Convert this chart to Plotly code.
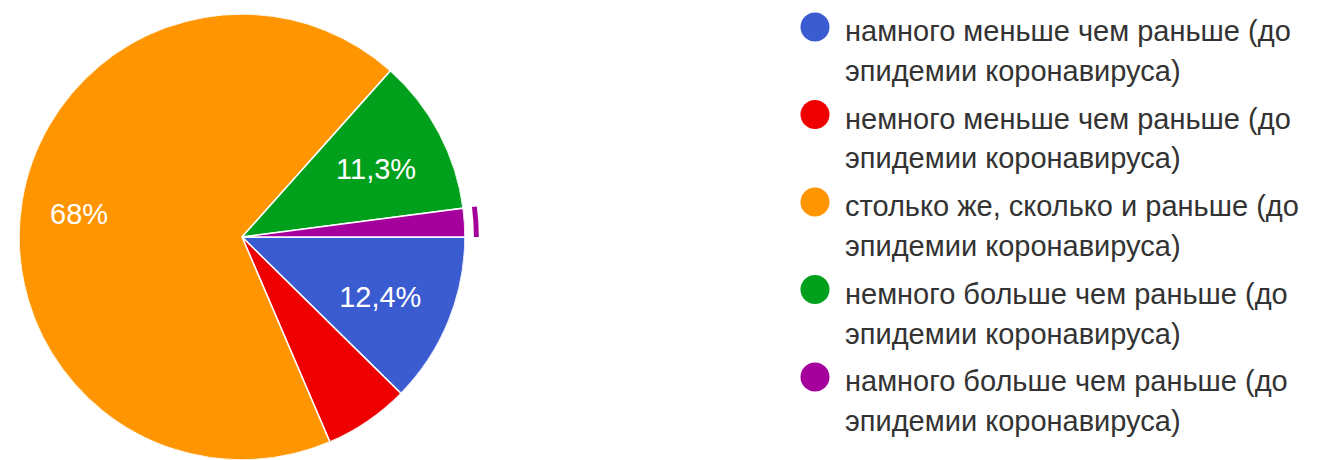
import itertools
import math
import textwrap

import plotly.graph_objects as go

# Survey answers and response counts
categories = [
    "намного меньше чем раньше (до эпидемии коронавируса)",
    "немного меньше чем раньше (до эпидемии коронавируса)",
    "столько же, сколько и раньше (до эпидемии коронавируса)",
    "немного больше чем раньше (до эпидемии коронавируса)",
    "намного больше чем раньше (до эпидемии коронавируса)",
]
responses = [12, 6, 66, 11, 2]
colors = ["#3b5bd1", "#ee0000", "#ff9500", "#00a01d", "#a6009c"]

# slice shown with the hover ring
highlighted = 4

# ---- geometry / style ----
W, H = 1322, 460
PIE_CX, PIE_CY, PIE_R = 242, 237, 223          # pixel centre and radius
LABEL_RADIUS = [0.67, 0.67, 0.74, 0.68, 0.67]   # label distance, fraction of radius
LABEL_DY = 6                                   # labels sit a little below the bisector (px)
LABEL_MIN_SHARE = 8.0                          # smaller slices get no label
RING_BASE, RING_WIDTH = 1.040, 0.022           # hover ring, fraction of radius
RING_AXIS_MAX = 1.08
RING_SECTOR = 12                               # degrees above 3 o'clock
FONT = "Liberation Sans, Arial, Helvetica, sans-serif"
TEXT_COLOR = "#333333"

LEG_MARK_X, LEG_TEXT_X = 815, 843
LEG_Y0, LEG_STEP, LEG_LINE = 27, 87.5, 40
LEG_MARK_D = 29
LEG_TEXT_DY = 4

total = sum(responses)
shares = [v / total * 100 for v in responses]


def fmt_pct(p):
    s = f"{p:.1f}"
    if s.endswith(".0"):
        s = s[:-2]
    return s.replace(".", ",") + "%"


# angular positions (degrees clockwise from 3 o'clock)
cum = list(itertools.accumulate(responses))
starts = [(c - v) / total * 360 for c, v in zip(cum, responses)]
spans = [v / total * 360 for v in responses]
mids = [s + w / 2 for s, w in zip(starts, spans)]


def label_pos(i):
    """Polar position of the label for slice i (bisector, nudged down)."""
    a = math.radians(mids[i])
    x = LABEL_RADIUS[i] * math.cos(a)
    y = LABEL_RADIUS[i] * math.sin(a) + LABEL_DY / PIE_R
    return math.hypot(x, y), math.degrees(math.atan2(y, x)) % 360


pie_domain = dict(
    x=[(PIE_CX - PIE_R) / W, (PIE_CX + PIE_R) / W],
    y=[max(0.0, 1 - (PIE_CY + PIE_R) / H), 1 - (PIE_CY - PIE_R) / H],
)
# narrow sector subplot sharing the pie centre, used for the hover ring
ring_r = PIE_R * RING_AXIS_MAX
ring_domain = dict(
    x=[PIE_CX / W, (PIE_CX + ring_r) / W],
    y=[1 - PIE_CY / H, 1 - (PIE_CY - ring_r * math.sin(math.radians(RING_SECTOR))) / H],
)

fig = go.Figure()

# pie slices as full-radius wedges
fig.add_trace(go.Barpolar(
    r=[1] * len(responses),
    base=[0] * len(responses),
    theta=mids,
    width=spans,
    customdata=[[c, fmt_pct(s)] for c, s in zip(categories, shares)],
    hovertemplate="%{customdata[0]}<br>%{customdata[1]}<extra></extra>",
    marker=dict(color=colors, line=dict(color="white", width=1.5)),
    showlegend=False,
    subplot="polar",
))

# percentage labels
lab_idx = [i for i, s in enumerate(shares) if s >= LABEL_MIN_SHARE]
lab_pos = [label_pos(i) for i in lab_idx]
fig.add_trace(go.Scatterpolar(
    r=[p[0] for p in lab_pos],
    theta=[p[1] for p in lab_pos],
    text=[fmt_pct(shares[i]) for i in lab_idx],
    mode="text",
    textfont=dict(family=FONT, size=29, color="white"),
    hoverinfo="skip",
    showlegend=False,
    subplot="polar",
))

# hover ring around the highlighted slice
fig.add_trace(go.Barpolar(
    r=[RING_WIDTH],
    base=[RING_BASE],
    theta=[mids[highlighted]],
    width=[spans[highlighted]],
    marker=dict(color=colors[highlighted], line=dict(width=0)),
    hoverinfo="skip",
    showlegend=False,
    subplot="polar2",
))

# legend: coloured dot + wrapped label
shapes, annotations = [], []
for i, (name, col) in enumerate(zip(categories, colors)):
    cy = LEG_Y0 + i * LEG_STEP
    r = LEG_MARK_D / 2
    shapes.append(dict(
        type="circle", xref="paper", yref="paper",
        x0=(LEG_MARK_X - r) / W, x1=(LEG_MARK_X + r) / W,
        y0=1 - (cy + r) / H, y1=1 - (cy - r) / H,
        fillcolor=col, line=dict(width=0),
    ))
    for j, line in enumerate(textwrap.wrap(name, 32)):
        annotations.append(dict(
            x=LEG_TEXT_X / W, y=1 - (cy + LEG_TEXT_DY + j * LEG_LINE) / H,
            xref="paper", yref="paper", xanchor="left", yanchor="middle",
            text=line, showarrow=False,
            font=dict(family=FONT, size=29, color=TEXT_COLOR),
        ))

hidden_angular = dict(visible=False, direction="clockwise", rotation=0)

fig.update_layout(
    width=W, height=H,
    margin=dict(l=0, r=0, t=0, b=0),
    paper_bgcolor="white",
    plot_bgcolor="white",
    showlegend=False,
    polar=dict(
        domain=pie_domain,
        bgcolor="rgba(0,0,0,0)",
        hole=0,
        bargap=0,
        radialaxis=dict(visible=False, range=[0, 1], autorange=False),
        angularaxis=hidden_angular,
    ),
    polar2=dict(
        domain=ring_domain,
        sector=[0, RING_SECTOR],
        bgcolor="rgba(0,0,0,0)",
        hole=0,
        bargap=0,
        radialaxis=dict(visible=False, range=[0, RING_AXIS_MAX], autorange=False),
        angularaxis=hidden_angular,
    ),
    shapes=shapes,
    annotations=annotations,
)

fig.write_html("out.html")
